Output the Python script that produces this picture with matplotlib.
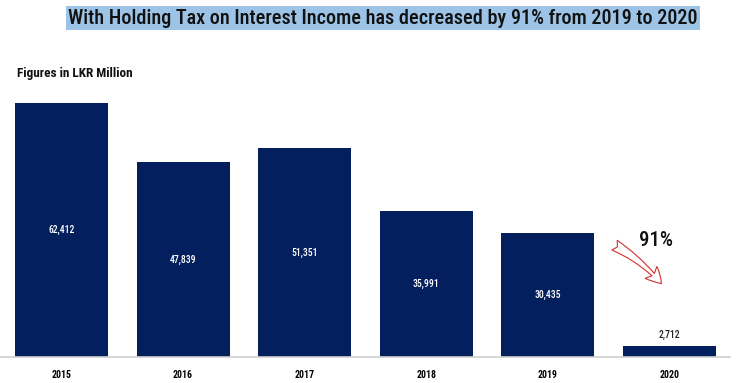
import matplotlib
matplotlib.use("Agg")
import matplotlib.pyplot as plt
from matplotlib import font_manager

years = ["2015", "2016", "2017", "2018", "2019", "2020"]
values = [62412, 47839, 51351, 35991, 30435, 2712]
title = "With Holding Tax on Interest Income has decreased by 91% from 2019 to 2020"
subtitle = "Figures in LKR Million"
change_label = "91%"

avail = {f.name for f in font_manager.fontManager.ttflist}
cond = [f for f in ["Roboto Condensed", "Liberation Sans Narrow", "DejaVu Sans Condensed"] if f in avail]
fam = cond + ["DejaVu Sans"]
plt.rcParams['font.family'] = fam

W, H = 743, 383
fig = plt.figure(figsize=(W / 100, H / 100), dpi=100)
ax = fig.add_axes([0.75 / W, 1 - 357 / H, (730 - 0.75) / W, (357 - 95) / H])

navy = "#031f5e"
x = range(len(years))
bars = ax.bar(x, values, width=0.765, color=navy, zorder=2)
ax.set_xlim(-0.5, len(years) - 0.5)
ax.set_ylim(0, values[0] * 262 / 254)

for i, v in enumerate(values):
    lab = f"{v:,}"
    if v > 10000:
        ax.text(i, v / 2, lab, ha="center", va="center", color="white", fontsize=7, fontweight="medium")
    else:
        ax.text(i, v + 1500, lab, ha="center", va="bottom", color="#222222", fontsize=7, fontweight="medium")

ax.set_xticks(list(x))
ax.set_xticklabels(years, fontsize=7, fontweight="bold")
ax.tick_params(axis="x", length=0, pad=9)
ax.set_yticks([])
for s in ["top", "right", "left"]:
    ax.spines[s].set_visible(False)
ax.spines["bottom"].set_color("#d0d0d0")
ax.spines["bottom"].set_linewidth(1.2)

fig.text(383 / W, 1 - 18 / H, title, ha="center", va="center", fontsize=14.6,
         fontweight="medium", color="#111111",
         bbox=dict(boxstyle="square,pad=0.1", fc="#9dc3e6", ec="none"))
fig.text(17 / W, 1 - 74 / H, subtitle, ha="left", va="center", fontsize=9.5,
         fontweight="bold", color="#111111")

ax.text(4.89, 28700, change_label, ha="center", va="center", fontsize=15,
        fontweight="medium", color="#111111")
ax.annotate("", xy=(4.95, 17500), xytext=(4.53, 27800),
            arrowprops=dict(arrowstyle="fancy,head_length=1.1,head_width=1.2,tail_width=0.8",
                            fc="white", ec="#d0312d", lw=0.8,
                            connectionstyle="arc3,rad=-0.1"))

fig.savefig("out.png", dpi=100)
